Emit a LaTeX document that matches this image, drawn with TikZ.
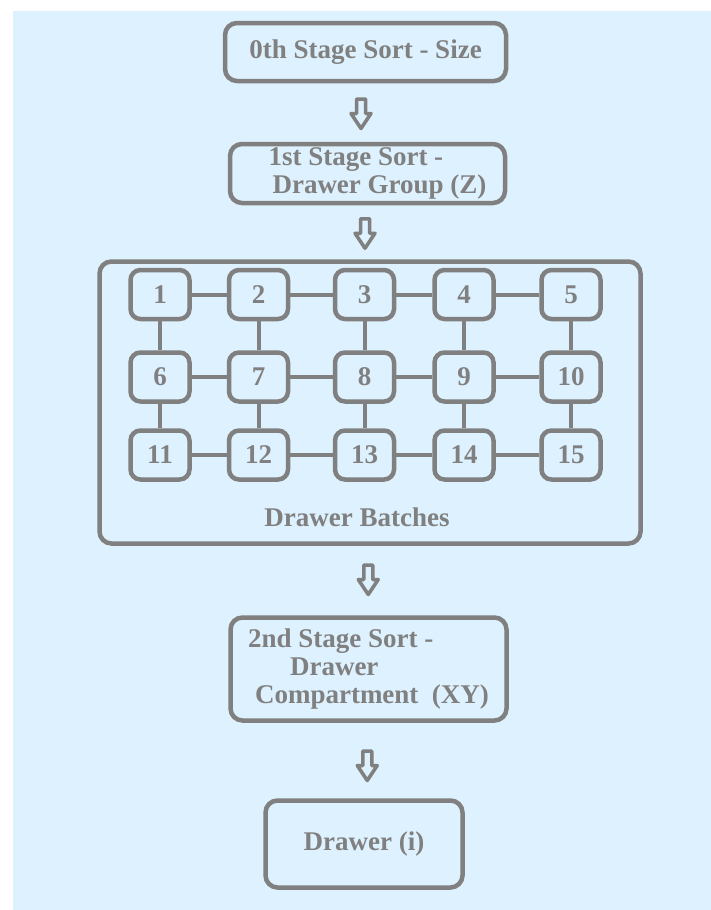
\documentclass[tikz,border=0pt]{standalone}
\usepackage{fontspec}
\setmainfont{Liberation Serif}[BoldFont={Liberation Serif Bold}]
\usetikzlibrary{calc}
\definecolor{bgblue}{RGB}{221,241,254}
\definecolor{boxgray}{RGB}{128,128,128}
\tikzset{
  stagebox/.style={draw=boxgray, line width=4.5pt, rounded corners=12pt, fill=bgblue,
    text=boxgray, font=\rmfamily\bfseries\fontsize{27}{28}\selectfont, inner sep=0pt},
  batchbox/.style={draw=boxgray, line width=4.5pt, rounded corners=10pt, fill=bgblue,
    minimum width=59pt, minimum height=49pt, text=boxgray,
    font=\rmfamily\bfseries\fontsize{27}{28}\selectfont, inner sep=0pt},
  link/.style={draw=boxgray, line width=4pt},
  blockarrow/.pic={
    \draw[boxgray, line width=3.5pt, line join=round, fill=bgblue]
      (-4.5,-15.5) -- (-4.5,-1) -- (-10,-1) -- (0,14) -- (10,-1) -- (4.5,-1) -- (4.5,-15.5) -- cycle;
  }
}
\begin{document}
\begin{tikzpicture}[x=1pt,y=-1pt]
\useasboundingbox (0,0) rectangle (711,910);
% Background
\fill[bgblue] (13,11) rectangle (711,910);
% Sort stages
\node[stagebox, minimum width=281pt, minimum height=58pt] (s0) at (365.5,52) {0th Stage Sort - Size};
\node[stagebox, minimum width=275pt, minimum height=59pt, align=left] (s1) at (367.5,173.5)
  {\hspace*{20pt}1st Stage Sort -\\\hspace*{24pt}Drawer Group (Z)};
% Drawer batches
\node[stagebox, minimum width=541pt, minimum height=282pt] (batches) at (370,402.5) {};
\node[text=boxgray, font=\rmfamily\bfseries\fontsize{27}{28}\selectfont] (blabel) at (357,517) {Drawer Batches};
\foreach \y [count=\r from 0] in {294.5,377,455} {
  \foreach \x [count=\c] in {160,258.5,364.5,464,571} {
    \pgfmathtruncatemacro{\n}{5*\r+\c}
    \node[batchbox] (b\n) at (\x,\y) {\n};
  }
}
% row links
\foreach \r in {0,5,10} {
  \foreach \c in {1,...,4} {
    \pgfmathtruncatemacro{\a}{\r+\c}
    \pgfmathtruncatemacro{\b}{\a+1}
    \draw[link] (b\a) -- (b\b);
  }
}
% column links
\foreach \a in {1,...,10} {
  \pgfmathtruncatemacro{\b}{\a+5}
  \draw[link] (b\a) -- (b\b);
}
\node[stagebox, minimum width=276pt, minimum height=103pt, align=left] (s2) at (368.5,669)
  {2nd Stage Sort -\\\hspace*{42pt}Drawer\\\hspace*{7pt}Compartment\ \ (XY)};
\node[stagebox, minimum width=197pt, minimum height=87pt] (drawer) at (364,844) {Drawer (i)};
% Hollow arrows between stages
\pic at ($(s0.south)!0.5!(s1.north)+(-5.5,2)$) {blockarrow};
\pic at ($(s1.south)!0.5!(batches.north)+(-3.75,2)$) {blockarrow};
\pic at ($(batches.south)!0.5!(s2.north)+(-1,0)$) {blockarrow};
\pic at ($(s2.south)!0.5!(drawer.north)+(1,6)$) {blockarrow};
\end{tikzpicture}
\end{document}
